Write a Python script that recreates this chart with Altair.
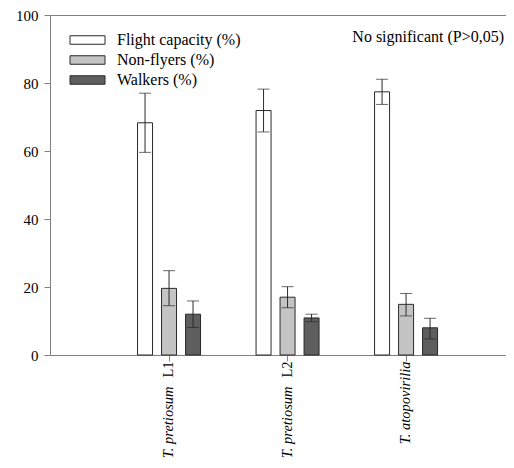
import altair as alt
import pandas as pd

groups = ["T. pretiosum L1", "T. pretiosum L2", "T. atopovirilia"]
series = ["Flight capacity (%)", "Non-flyers (%)", "Walkers (%)"]
colors = ["#ffffff", "#c4c4c4", "#5e5e5e"]

flight = [68.3, 71.9, 77.4]
flight_lo = [59.6, 65.6, 73.7]
flight_hi = [77.0, 78.2, 81.1]

nonfly = [19.6, 17.0, 14.9]
nonfly_lo = [14.5, 13.9, 11.5]
nonfly_hi = [24.8, 20.1, 18.1]

walk = [12.0, 10.9, 8.0]
walk_lo = [8.1, 9.8, 4.7]
walk_hi = [15.9, 12.0, 10.8]

y_ticks = [0, 20, 40, 60, 80, 100]
note = "No significant (P>0,05)"

rows = []
for s, vals, los, his in [
    (series[0], flight, flight_lo, flight_hi),
    (series[1], nonfly, nonfly_lo, nonfly_hi),
    (series[2], walk, walk_lo, walk_hi),
]:
    for g, v, lo, hi in zip(groups, vals, los, his):
        rows.append({"group": g, "series": s, "value": v, "lo": lo, "hi": hi})
df = pd.DataFrame(rows)

FONT = "Liberation Serif, Times New Roman, Tinos, serif"
GRAY = "#808080"
INK = "#2a2a2a"

xscale = alt.Scale(paddingInner=0.3924, paddingOuter=0.62, align=0.565)
xoff = alt.XOffset("series:N", sort=series,
                   scale=alt.Scale(paddingInner=0.375, paddingOuter=0.1875))


def xenc(axis):
    return alt.X("group:N", sort=groups, scale=xscale, axis=axis, title=None)


axis_common = dict(labelAngle=270, labelAlign="right", labelBaseline="middle",
                   labelFont=FONT, labelFontSize=14.5, labelColor="#000000",
                   labelOverlap=False, labelLimit=300, title=None, orient="bottom")

axis_a = alt.Axis(labelExpr="datum.value == 'T. atopovirilia' ? '' : 'T. pretiosum'",
                  labelFontStyle="italic", labelPadding=25, tickSize=6,
                  tickColor=GRAY, domainColor=GRAY, **axis_common)
axis_b = alt.Axis(labelExpr="datum.value == 'T. pretiosum L1' ? 'L1' : (datum.value == 'T. pretiosum L2' ? 'L2' : '')",
                  labelPadding=6, tickSize=6, ticks=False, domain=False, **axis_common)
axis_c = alt.Axis(labelExpr="datum.value == 'T. atopovirilia' ? datum.value : ''",
                  labelFontStyle="italic", labelPadding=6, tickSize=6, ticks=False,
                  domain=False, **axis_common)
axis_top = alt.Axis(orient="top", labels=False, ticks=False, domainColor=GRAY, title=None)

yscale = alt.Scale(domain=[0, 100], nice=False)
yaxis = alt.Axis(values=y_ticks, grid=False, tickSize=6, labelPadding=6, orient="left",
                 tickColor=GRAY, domainColor=GRAY, labelFont=FONT,
                 labelFontSize=15, labelColor="#000000", title=None)

base = alt.Chart(df)

bars = base.mark_bar(stroke=INK, strokeWidth=1).encode(
    x=xenc(axis_a),
    xOffset=xoff,
    y=alt.Y("value:Q", scale=yscale, title=None, axis=yaxis),
    fill=alt.Fill("series:N", sort=series,
                  scale=alt.Scale(domain=series, range=colors),
                  legend=alt.Legend(title=None, orient="none", legendX=29.5, legendY=17,
                                    symbolType="M-3.5,-0.85H3.5V0.85H-3.5Z",
                                    symbolSize=100, symbolStrokeColor=INK,
                                    symbolStrokeWidth=1, labelFont=FONT,
                                    labelFontSize=16, labelColor="#000000",
                                    labelOffset=21.5, rowPadding=4, padding=0)),
)

rules = base.mark_rule(color=INK, strokeWidth=1).encode(
    x=xenc(axis_b),
    xOffset=xoff,
    y=alt.Y("lo:Q", scale=yscale, title=None, axis=yaxis),
    y2="hi:Q",
)

caps_hi = base.mark_tick(color=INK, thickness=1, size=12).encode(
    x=xenc(axis_c),
    xOffset=xoff,
    y=alt.Y("hi:Q", scale=yscale, title=None, axis=yaxis),
)

caps_lo = base.mark_tick(color=INK, thickness=1, size=12).encode(
    x=xenc(axis_top),
    xOffset=xoff,
    y=alt.Y("lo:Q", scale=yscale, title=None, axis=yaxis),
)

text = alt.Chart(pd.DataFrame({"t": [note]})).mark_text(
    font=FONT, fontSize=16, align="right", baseline="middle", color="#000000"
).encode(x=alt.value(454), y=alt.value(22), text="t:N")

chart = alt.layer(bars, rules, caps_hi, caps_lo, text).resolve_axis(
    x="independent", y="shared"
).properties(
    width=456, height=340,
    padding={"left": 42, "top": 7, "right": 0, "bottom": 105},
    autosize=alt.AutoSizeParams(type="none"),
    background="white",
).configure_view(stroke=None)

chart.save("out.html", embed_options={"renderer": "svg", "actions": False})
